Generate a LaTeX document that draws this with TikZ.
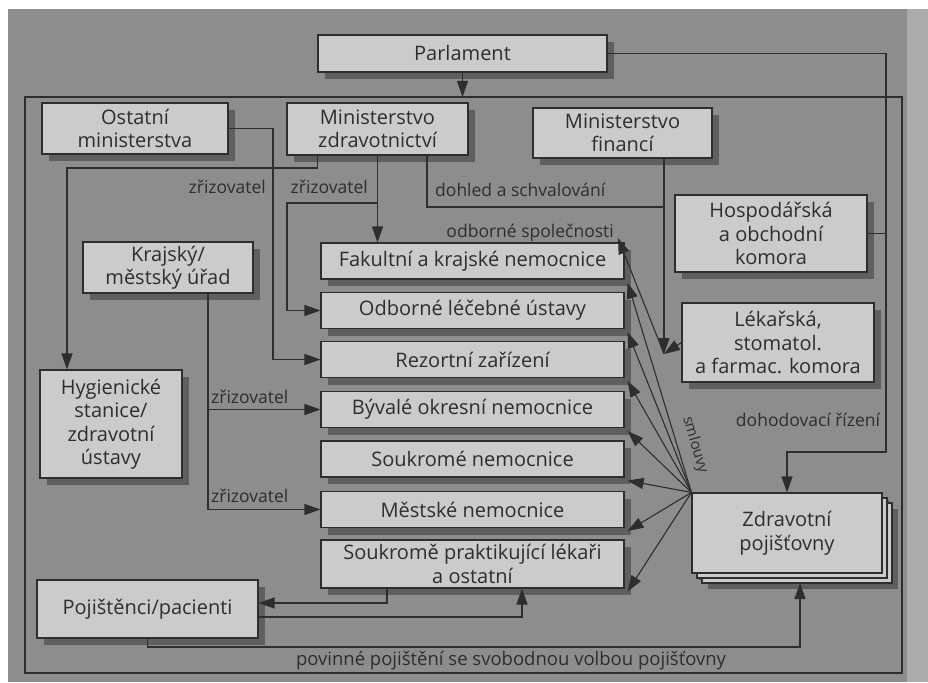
\documentclass[tikz,border=0pt]{standalone}
\usepackage{fontspec}
\setmainfont{Open Sans}
\usetikzlibrary{arrows.meta,shadows,calc}

\definecolor{pagegrey}{HTML}{8D8D8D}
\definecolor{pageedge}{HTML}{ABABAB}
\definecolor{boxgrey}{HTML}{CBCBCB}
\definecolor{ink}{HTML}{2E2E2E}

\tikzset{
  box/.style={draw=ink, line width=1.1pt, fill=boxgrey, text=ink, align=center,
    inner sep=2pt, font=\fontsize{20}{23.5}\selectfont,
    drop shadow={shadow xshift=7pt, shadow yshift=-7pt, fill=black, opacity=0.32}},
  link/.style={draw=ink, line width=1.1pt},
  arr/.style={link, -{Triangle[length=16pt,width=11pt]}},
  lbl/.style={text=ink, font=\fontsize{17.5}{20}\selectfont, inner sep=0pt},
}

\begin{document}
\begin{tikzpicture}[x=1pt,y=-1pt]
\useasboundingbox (0,0) rectangle (928,682);

% page and outer frame
\fill[white] (0,0) rectangle (928,682);
\fill[pagegrey] (8,9) rectangle (928,682);
\fill[pageedge] (907,9) rectangle (928,682);
\draw[link] (25,97) rectangle (902,673);

% top level
\node[box, minimum width=289pt, minimum height=37pt] (parl) at (462.5,53.5) {Parlament};
\node[box, minimum width=186pt, minimum height=51pt] (ostatni) at (135,128.5) {Ostatní\\ministerstva};
\node[box, minimum width=181pt, minimum height=52pt] (mz) at (377.5,129) {Ministerstvo\\zdravotnictví};
\node[box, minimum width=179pt, minimum height=50pt] (mf) at (622.5,133) {Ministerstvo\\financí};

% chambers
\node[box, minimum width=192pt, minimum height=77pt] (hosp) at (771,233.5) {Hospodářská\\a obchodní\\komora};
\node[box, minimum width=192pt, minimum height=79pt] (lek) at (778,342.5) {Lékařská,\\stomatol.\\a farmac. komora};

% regional level
\node[box, minimum width=170pt, minimum height=51pt] (kraj) at (168,267.5) {Krajský/\\městský úřad};
\node[box, minimum width=142pt, minimum height=108pt] (hyg) at (111,424) {Hygienické\\stanice/\\zdravotní\\ústavy};

% providers
\node[box, minimum width=303pt, minimum height=36pt] (fak) at (472.5,261) {Fakultní a krajské nemocnice};
\node[box, minimum width=303pt, minimum height=36pt] (odb) at (472.5,310.5) {Odborné léčebné ústavy};
\node[box, minimum width=303pt, minimum height=36pt] (rez) at (472.5,359.5) {Rezortní zařízení};
\node[box, minimum width=303pt, minimum height=36pt] (byv) at (472.5,409.5) {Bývalé okresní nemocnice};
\node[box, minimum width=303pt, minimum height=36pt] (souk) at (472.5,459) {Soukromé nemocnice};
\node[box, minimum width=303pt, minimum height=36pt] (mes) at (472.5,509.5) {Městské nemocnice};
\node[box, minimum width=303pt, minimum height=48pt] (sp) at (472.5,564) {Soukromě praktikující lékaři\\a ostatní};

% patients and insurers
\node[box, minimum width=221pt, minimum height=58pt] (poj) at (147.5,609) {Pojištěnci/pacienti};
\node[box, minimum width=190pt, minimum height=80pt,
      drop shadow={shadow xshift=16pt, shadow yshift=-16pt, fill=black, opacity=0.32},
      copy shadow={shadow xshift=10pt, shadow yshift=-10pt},
      copy shadow={shadow xshift=5pt, shadow yshift=-5pt}] (zp) at (787,533) {Zdravotní\\pojišťovny};

% helper points
\coordinate (ftop) at (462.5,97);
\coordinate (rturn) at (886,452);
\coordinate (oc) at (273,359.5);
\coordinate (h1) at (67,168);
\coordinate (b1) at (377.5,203);
\coordinate (b2) at (287,310.5);
\coordinate (d1) at (427,155);
\coordinate (J) at (664,354);
\coordinate (osp) at (618,238);
\coordinate (k1) at (208,409.5);
\coordinate (k2) at (208,509.5);
\coordinate (s1) at (387,603);
\coordinate (s2) at (522,617);
\coordinate (s3) at (147.5,647);
\coordinate (s4) at (800,647);
\coordinate (zpb) at (800,583);

% parliament
\draw[arr] (parl.south) -- (ftop);
\draw[arr] (parl.east) -| (rturn) -| (zp.north);
\draw[link] (hosp.east) -- (hosp.east -| rturn);

% founders
\draw[arr] (ostatni.east) -| (oc) -- (rez.west);
\draw[arr] ($(mz.south west)+(31,0)$) |- (h1) -- (h1 |- hyg.north);
\draw[arr] (mz.south) -- (mz.south |- fak.north);
\draw[arr] (b1) -| (b2) -- (odb.west);
\draw[link] (d1) |- (J |- 0,207);
\draw[arr] (mf.south -| J) -- (J);
\draw[arr] (J) -- (osp);
\draw[arr] (lek.west) -- (J);
\draw[link] (kraj.south -| k1) -- (k2);
\draw[arr] (k1) -- (byv.west);
\draw[arr] (k2) -- (mes.west);

% contracts
\foreach \n in {fak,odb,rez,byv,souk,mes,sp}
  \draw[arr] (zp.north west) -- ($(\n.south east)+(3,3)$);

% patients
\draw[arr] (s1 |- sp.south) -- (s1) -- (s1 -| poj.east);
\draw[arr] (s2 -| poj.east) -- (s2) -- (s2 |- sp.south);
\draw[arr] (poj.south) -- (s3) -- (s4) -- (zpb);

% labels
\node[lbl, anchor=east] (l1) at (266,187) {zřizovatel};
\node[lbl, anchor=east] (l2) at (368,187) {zřizovatel};
\node[lbl, anchor=west] (l3) at (435,190) {dohled a schvalování};
\node[lbl, anchor=east] (l4) at (614,233) {odborné společnosti};
\node[lbl, anchor=west] (l5) at (211,397) {zřizovatel};
\node[lbl, anchor=west] (l6) at (211,496) {zřizovatel};
\node[lbl] (l7) at (808,420) {dohodovací řízení};
\node[lbl, rotate=-74, font=\fontsize{15}{18}\selectfont] (l8) at (695,445) {smlouvy};
\node[lbl, font=\fontsize{18.5}{21}\selectfont] (l9) at (511,661) {povinné pojištění se svobodnou volbou pojišťovny};
\end{tikzpicture}
\end{document}
